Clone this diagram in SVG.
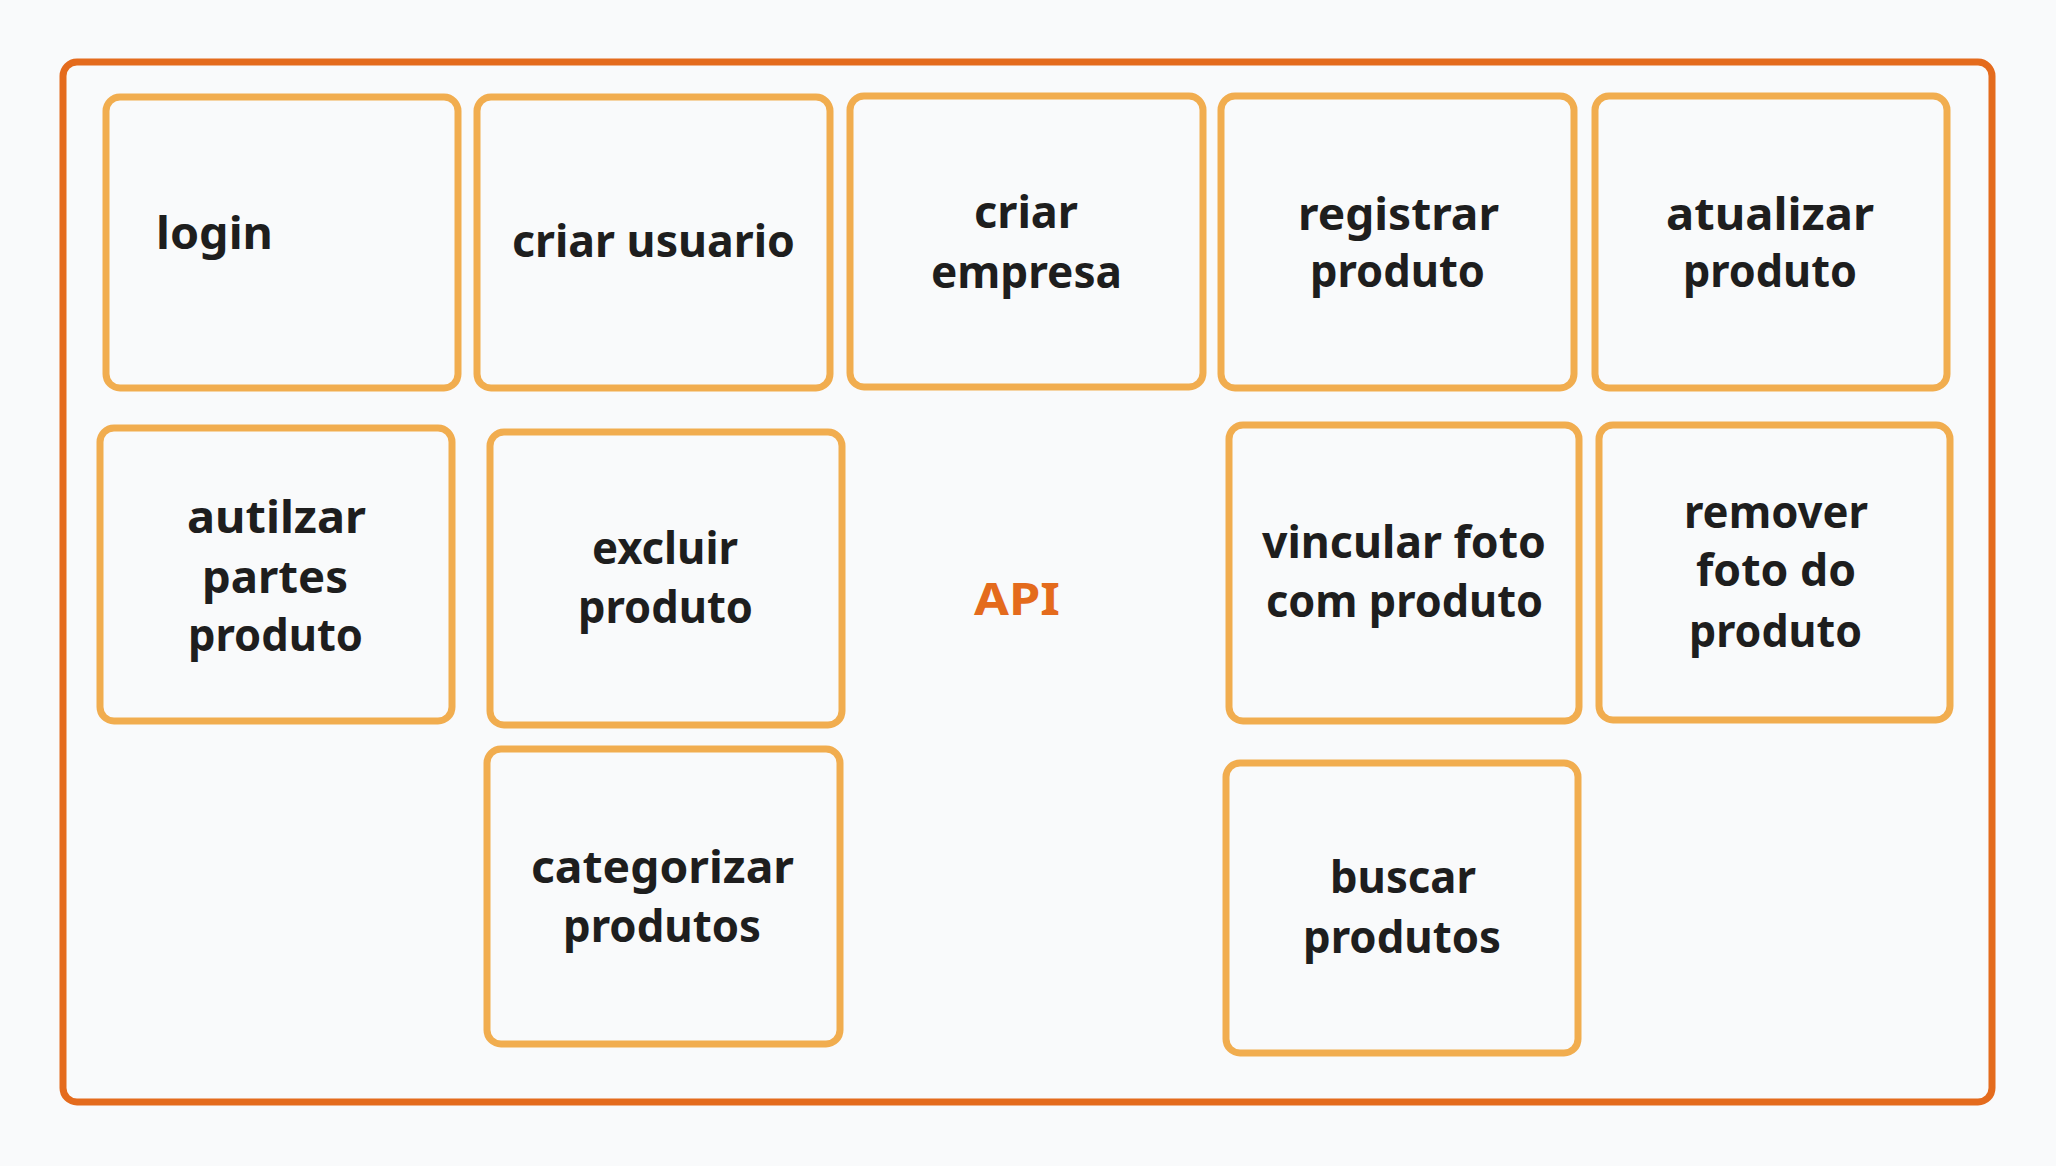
<svg xmlns="http://www.w3.org/2000/svg" width="2056" height="1166" viewBox="0 0 2056 1166">
<style>
.bg{fill:#f9fafb}
.frame{fill:#f9fafb;stroke:#e46b1d;stroke-width:7}
.box{fill:#f9fafb;stroke:#f1ad4f;stroke-width:7}
.t{font-family:"Noto Sans","Open Sans",sans-serif;font-size:44px;font-weight:bold;fill:#1e1e1e}
.api{font-family:"Noto Sans","Open Sans",sans-serif;font-size:44px;font-weight:bold;fill:#e46b1d}
</style>
<rect class="bg" x="0" y="0" width="2056" height="1166"/>
<g id="api-frame">
<rect class="frame" x="63" y="62" width="1929" height="1040" rx="14"/>
<text class="api" x="974" y="615" textLength="86" lengthAdjust="spacingAndGlyphs">API</text>
</g>
<g id="connectors"></g>
<g id="login">
<rect class="box" x="106" y="97" width="352" height="291" rx="14"/>
<text class="t" x="156" y="249" textLength="117" lengthAdjust="spacingAndGlyphs">login</text>
</g>
<g id="criar-usuario">
<rect class="box" x="477" y="97" width="353" height="291" rx="14"/>
<text class="t" x="512" y="257" textLength="283" lengthAdjust="spacingAndGlyphs">criar usuario</text>
</g>
<g id="criar-empresa">
<rect class="box" x="850" y="96" width="353" height="291" rx="14"/>
<text class="t" x="974" y="228" textLength="104" lengthAdjust="spacingAndGlyphs">criar</text>
<text class="t" x="931" y="288" textLength="191" lengthAdjust="spacingAndGlyphs">empresa</text>
</g>
<g id="registrar-produto">
<rect class="box" x="1221" y="96" width="353" height="292" rx="14"/>
<text class="t" x="1298" y="230" textLength="201" lengthAdjust="spacingAndGlyphs">registrar</text>
<text class="t" x="1310" y="287" textLength="175" lengthAdjust="spacingAndGlyphs">produto</text>
</g>
<g id="atualizar-produto">
<rect class="box" x="1595" y="96" width="352" height="292" rx="14"/>
<text class="t" x="1666" y="230" textLength="208" lengthAdjust="spacingAndGlyphs">atualizar</text>
<text class="t" x="1683" y="287" textLength="174" lengthAdjust="spacingAndGlyphs">produto</text>
</g>
<g id="autilzar-partes-produto">
<rect class="box" x="100" y="428" width="352" height="293" rx="14"/>
<text class="t" x="187" y="533" textLength="179" lengthAdjust="spacingAndGlyphs">autilzar</text>
<text class="t" x="202" y="593" textLength="146" lengthAdjust="spacingAndGlyphs">partes</text>
<text class="t" x="188" y="651" textLength="175" lengthAdjust="spacingAndGlyphs">produto</text>
</g>
<g id="excluir-produto">
<rect class="box" x="490" y="432" width="352" height="293" rx="14"/>
<text class="t" x="592" y="564" textLength="146" lengthAdjust="spacingAndGlyphs">excluir</text>
<text class="t" x="578" y="623" textLength="175" lengthAdjust="spacingAndGlyphs">produto</text>
</g>
<g id="vincular-foto">
<rect class="box" x="1229" y="425" width="350" height="296" rx="14"/>
<text class="t" x="1262" y="558" textLength="284" lengthAdjust="spacingAndGlyphs">vincular foto</text>
<text class="t" x="1266" y="617" textLength="277" lengthAdjust="spacingAndGlyphs">com produto</text>
</g>
<g id="remover-foto">
<rect class="box" x="1599" y="425" width="351" height="295" rx="14"/>
<text class="t" x="1684" y="528" textLength="184" lengthAdjust="spacingAndGlyphs">remover</text>
<text class="t" x="1696" y="586" textLength="160" lengthAdjust="spacingAndGlyphs">foto do</text>
<text class="t" x="1689" y="647" textLength="173" lengthAdjust="spacingAndGlyphs">produto</text>
</g>
<g id="categorizar-produtos">
<rect class="box" x="487" y="749" width="353" height="295" rx="14"/>
<text class="t" x="531" y="883" textLength="263" lengthAdjust="spacingAndGlyphs">categorizar</text>
<text class="t" x="563" y="942" textLength="198" lengthAdjust="spacingAndGlyphs">produtos</text>
</g>
<g id="buscar-produtos">
<rect class="box" x="1226" y="763" width="352" height="290" rx="14"/>
<text class="t" x="1330" y="893" textLength="146" lengthAdjust="spacingAndGlyphs">buscar</text>
<text class="t" x="1303" y="953" textLength="198" lengthAdjust="spacingAndGlyphs">produtos</text>
</g>
</svg>
